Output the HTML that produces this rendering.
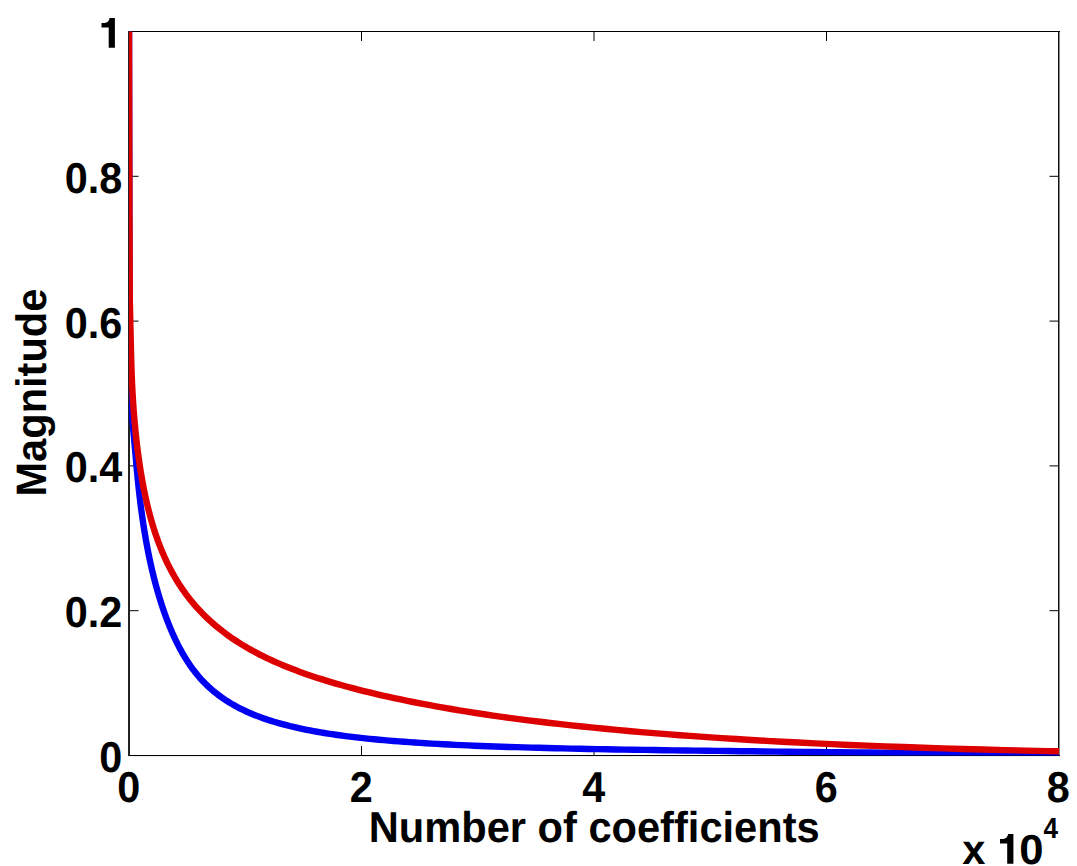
<!DOCTYPE html>
<html><head><meta charset="utf-8"><style>
html,body{margin:0;padding:0;background:#fff;width:1077px;height:866px;overflow:hidden}
svg{display:block}
text{font-family:"Liberation Sans",sans-serif;font-weight:bold;fill:#000;text-rendering:geometricPrecision}
</style></head><body>
<svg width="1077" height="866" viewBox="0 0 1077 866">
<defs><clipPath id="c"><rect x="129.0" y="31.5" width="930.0" height="724.0"/></clipPath></defs>
<rect width="1077" height="866" fill="#fff"/>
<path d="M129.00,755.5 V746.0 M129.00,31.5 V41.0 M361.50,755.5 V746.0 M361.50,31.5 V41.0 M594.00,755.5 V746.0 M594.00,31.5 V41.0 M826.50,755.5 V746.0 M826.50,31.5 V41.0 M1058.50,755.5 V746.0 M1058.50,31.5 V41.0 M129.0,755.50 H138.5 M1059.0,755.50 H1049.5 M129.0,610.70 H138.5 M1059.0,610.70 H1049.5 M129.0,465.90 H138.5 M1059.0,465.90 H1049.5 M129.0,321.10 H138.5 M1059.0,321.10 H1049.5 M129.0,176.30 H138.5 M1059.0,176.30 H1049.5 M129.0,31.50 H138.5 M1059.0,31.50 H1049.5" stroke="#000" stroke-width="1" fill="none"/>
<path d="M128,756.5 H1060" stroke="#ececec" stroke-width="1" fill="none"/>
<path d="M128,31.5 H1060 M128,755.5 H1060" stroke="#000" stroke-width="1" fill="none"/>
<path d="M129,31 V756" stroke="#222" stroke-width="2" fill="none"/>
<path d="M1058.75,31 V756" stroke="#111" stroke-width="1.5" fill="none"/>
<g clip-path="url(#c)" fill="none" stroke-width="6.4" stroke-linejoin="round">
<path d="M129.00,20.00 L129.50,330.00 L131.50,410.00 L136.00,460.07 L136.13,461.67 L136.27,463.28 L136.41,464.89 L136.55,466.51 L136.70,468.14 L136.85,469.77 L137.00,471.41 L137.15,473.05 L137.31,474.70 L137.47,476.36 L137.63,478.02 L137.79,479.69 L137.96,481.36 L138.14,483.04 L138.31,484.72 L138.49,486.41 L138.67,488.10 L138.86,489.80 L139.05,491.50 L139.24,493.21 L139.44,494.92 L139.64,496.64 L139.84,498.37 L140.05,500.10 L140.26,501.83 L140.48,503.57 L140.70,505.31 L140.92,507.06 L141.15,508.81 L141.39,510.56 L141.62,512.33 L141.87,514.09 L142.11,515.86 L142.36,517.63 L142.62,519.41 L142.88,521.19 L143.15,522.98 L143.42,524.77 L143.70,526.56 L143.98,528.36 L144.27,530.16 L144.56,531.97 L144.86,533.77 L145.16,535.59 L145.47,537.40 L145.79,539.22 L146.11,541.04 L146.44,542.87 L146.78,544.70 L147.12,546.53 L147.47,548.37 L147.82,550.21 L148.18,552.05 L148.55,553.89 L148.93,555.74 L149.31,557.59 L149.70,559.45 L150.10,561.30 L150.50,563.16 L150.91,565.03 L151.33,566.89 L151.76,568.76 L152.20,570.63 L152.65,572.50 L153.10,574.37 L153.56,576.25 L154.03,578.13 L154.51,580.01 L155.00,581.89 L155.50,583.78 L156.01,585.66 L156.53,587.55 L157.06,589.44 L157.60,591.34 L158.15,593.23 L158.71,595.13 L159.28,597.02 L159.86,598.92 L160.45,600.82 L161.06,602.73 L161.67,604.63 L162.30,606.53 L162.94,608.44 L163.59,610.35 L164.25,612.26 L164.93,614.16 L165.62,616.07 L166.32,617.98 L167.04,619.89 L167.77,621.79 L168.52,623.70 L169.27,625.60 L170.05,627.49 L170.84,629.39 L171.64,631.27 L172.46,633.16 L173.29,635.03 L174.14,636.90 L175.01,638.77 L175.89,640.62 L176.79,642.47 L177.71,644.31 L178.65,646.13 L179.60,647.95 L180.57,649.76 L181.56,651.56 L182.57,653.34 L183.60,655.12 L184.65,656.88 L185.72,658.62 L186.81,660.35 L187.92,662.07 L189.05,663.77 L190.20,665.46 L191.38,667.13 L192.57,668.78 L193.79,670.41 L195.04,672.03 L196.31,673.62 L197.60,675.20 L198.92,676.76 L200.26,678.29 L201.63,679.81 L203.02,681.30 L204.44,682.78 L205.89,684.23 L207.37,685.66 L208.87,687.07 L210.41,688.46 L211.97,689.84 L213.56,691.19 L215.19,692.52 L216.84,693.83 L218.53,695.12 L220.25,696.39 L222.00,697.65 L223.78,698.88 L225.60,700.09 L227.46,701.29 L229.35,702.47 L231.28,703.63 L233.24,704.77 L235.24,705.89 L237.28,706.99 L239.36,708.08 L241.48,709.15 L243.64,710.20 L245.84,711.23 L248.08,712.24 L250.37,713.24 L252.70,714.22 L255.08,715.18 L257.50,716.13 L259.97,717.06 L262.48,717.97 L265.04,718.87 L267.66,719.75 L270.32,720.62 L273.03,721.46 L275.80,722.30 L278.62,723.11 L281.49,723.91 L284.42,724.70 L287.40,725.47 L290.44,726.23 L293.54,726.97 L296.70,727.69 L299.92,728.40 L303.20,729.10 L306.55,729.78 L309.96,730.45 L313.43,731.10 L316.97,731.74 L320.58,732.36 L324.26,732.98 L328.01,733.57 L331.83,734.16 L335.73,734.73 L339.70,735.29 L343.74,735.83 L347.87,736.37 L352.07,736.89 L356.35,737.39 L360.72,737.89 L365.17,738.37 L369.70,738.84 L374.33,739.30 L379.04,739.74 L383.84,740.18 L388.73,740.60 L393.72,741.01 L398.80,741.41 L403.98,741.80 L409.26,742.18 L414.64,742.55 L420.13,742.90 L425.72,743.25 L431.41,743.59 L437.22,743.91 L443.14,744.23 L449.17,744.54 L455.32,744.84 L461.59,745.13 L467.97,745.41 L474.48,745.68 L481.11,745.95 L487.88,746.20 L494.77,746.45 L501.79,746.70 L508.95,746.93 L516.24,747.16 L523.68,747.38 L531.26,747.60 L538.98,747.80 L546.85,748.01 L554.88,748.20 L563.06,748.40 L571.39,748.58 L579.89,748.76 L588.54,748.94 L597.37,749.11 L606.36,749.28 L615.53,749.45 L624.87,749.61 L634.39,749.76 L644.09,749.92 L653.99,750.07 L664.07,750.21 L674.34,750.36 L684.81,750.50 L695.48,750.64 L706.36,750.78 L717.45,750.92 L728.75,751.05 L740.26,751.19 L752.00,751.32 L763.96,751.46 L776.16,751.59 L788.58,751.72 L801.25,751.85 L814.15,751.99 L827.31,752.12 L840.72,752.25 L854.39,752.39 L868.31,752.52 L882.51,752.66 L896.98,752.80 L911.73,752.94 L926.76,753.09 L942.07,753.23 L957.69,753.38 L973.60,753.53 L989.82,753.69 L1006.35,753.85 L1023.19,754.01 L1040.36,754.18 L1057.86,754.35 L1075.70,754.52 L1093.87,754.70" stroke="#0000f2"/>
<path d="M129.00,20.00 L129.40,200.00 L129.80,300.00 L130.75,340.22 L130.79,342.36 L130.84,344.46 L130.88,346.54 L130.93,348.59 L130.98,350.61 L131.03,352.61 L131.08,354.58 L131.13,356.52 L131.18,358.44 L131.23,360.34 L131.29,362.21 L131.34,364.07 L131.40,365.90 L131.46,367.70 L131.52,369.49 L131.58,371.26 L131.65,373.01 L131.71,374.75 L131.78,376.46 L131.85,378.16 L131.92,379.85 L131.99,381.52 L132.07,383.17 L132.14,384.82 L132.22,386.45 L132.30,388.06 L132.38,389.67 L132.46,391.27 L132.55,392.85 L132.64,394.43 L132.73,396.00 L132.82,397.56 L132.91,399.12 L133.01,400.67 L133.11,402.21 L133.21,403.75 L133.31,405.29 L133.42,406.82 L133.53,408.35 L133.64,409.88 L133.75,411.41 L133.87,412.93 L133.99,414.46 L134.11,415.99 L134.24,417.53 L134.37,419.06 L134.50,420.60 L134.64,422.14 L134.78,423.69 L134.92,425.24 L135.07,426.80 L135.22,428.36 L135.37,429.93 L135.53,431.51 L135.69,433.09 L135.85,434.67 L136.02,436.26 L136.19,437.86 L136.37,439.47 L136.55,441.08 L136.74,442.70 L136.93,444.32 L137.13,445.95 L137.33,447.59 L137.53,449.24 L137.74,450.90 L137.96,452.56 L138.18,454.24 L138.41,455.92 L138.64,457.61 L138.88,459.31 L139.12,461.01 L139.37,462.73 L139.62,464.46 L139.89,466.19 L140.16,467.94 L140.43,469.69 L140.71,471.45 L141.00,473.22 L141.30,474.99 L141.60,476.77 L141.91,478.57 L142.23,480.36 L142.56,482.17 L142.89,483.98 L143.23,485.80 L143.58,487.63 L143.94,489.46 L144.31,491.29 L144.69,493.14 L145.08,494.99 L145.48,496.84 L145.88,498.70 L146.30,500.57 L146.72,502.44 L147.16,504.31 L147.61,506.19 L148.07,508.08 L148.54,509.97 L149.02,511.86 L149.52,513.75 L150.02,515.65 L150.54,517.56 L151.07,519.46 L151.62,521.37 L152.17,523.28 L152.75,525.20 L153.33,527.12 L153.93,529.04 L154.55,530.96 L155.18,532.88 L155.82,534.81 L156.49,536.73 L157.16,538.66 L157.86,540.59 L158.57,542.52 L159.30,544.45 L160.05,546.39 L160.81,548.32 L161.60,550.25 L162.40,552.18 L163.23,554.11 L164.07,556.05 L164.94,557.98 L165.82,559.91 L166.73,561.84 L167.66,563.77 L168.62,565.69 L169.59,567.62 L170.60,569.54 L171.62,571.46 L172.67,573.38 L173.75,575.30 L174.85,577.22 L175.99,579.13 L177.15,581.04 L178.33,582.94 L179.55,584.85 L180.80,586.75 L182.08,588.64 L183.38,590.54 L184.73,592.43 L186.10,594.31 L187.51,596.19 L188.95,598.07 L190.43,599.94 L191.95,601.80 L193.50,603.66 L195.09,605.52 L196.72,607.37 L198.39,609.21 L200.11,611.05 L201.86,612.88 L203.66,614.71 L205.50,616.53 L207.39,618.34 L209.32,620.15 L211.30,621.95 L213.33,623.74 L215.41,625.52 L217.55,627.30 L219.73,629.07 L221.97,630.83 L224.26,632.58 L226.61,634.33 L229.02,636.07 L231.49,637.79 L234.02,639.51 L236.61,641.22 L239.26,642.92 L241.98,644.61 L244.77,646.30 L247.63,647.97 L250.56,649.63 L253.55,651.28 L256.63,652.92 L259.78,654.55 L263.00,656.18 L266.31,657.79 L269.70,659.39 L273.17,660.98 L276.72,662.57 L280.37,664.14 L284.10,665.71 L287.93,667.26 L291.85,668.81 L295.87,670.35 L299.99,671.88 L304.20,673.40 L308.53,674.92 L312.96,676.42 L317.49,677.92 L322.14,679.41 L326.91,680.89 L331.79,682.37 L336.80,683.83 L341.92,685.29 L347.18,686.74 L352.56,688.19 L358.07,689.62 L363.73,691.05 L369.52,692.47 L375.45,693.89 L381.53,695.30 L387.76,696.70 L394.14,698.10 L400.69,699.49 L407.39,700.87 L414.26,702.25 L421.30,703.62 L428.51,704.98 L435.90,706.34 L443.47,707.68 L451.23,709.02 L459.18,710.35 L467.32,711.67 L475.67,712.98 L484.22,714.27 L492.99,715.56 L501.97,716.83 L511.17,718.09 L520.60,719.34 L530.26,720.58 L540.16,721.80 L550.30,723.00 L560.69,724.19 L571.35,725.37 L582.26,726.53 L593.44,727.68 L604.90,728.80 L616.64,729.91 L628.67,731.01 L641.00,732.08 L653.63,733.14 L666.57,734.17 L679.84,735.19 L693.43,736.18 L707.35,737.16 L721.62,738.11 L736.24,739.05 L751.22,739.96 L766.58,740.84 L782.31,741.71 L798.42,742.55 L814.94,743.37 L831.86,744.16 L849.20,744.93 L866.97,745.67 L885.18,746.38 L903.83,747.07 L922.95,747.73 L942.54,748.36 L962.61,748.97 L983.18,749.55 L1004.25,750.09 L1025.84,750.61 L1047.97,751.10 L1070.64,751.56 L1093.87,751.99" stroke="#dc0000"/>
</g>
<g font-size="42">
<text transform="translate(122.2,771.70) scale(0.985,1.03)" text-anchor="end">0</text>
<text transform="translate(122.2,627.30) scale(0.985,1.03)" text-anchor="end">0.2</text>
<text transform="translate(122.2,482.30) scale(0.985,1.03)" text-anchor="end">0.4</text>
<text transform="translate(122.2,338.20) scale(0.985,1.03)" text-anchor="end">0.6</text>
<text transform="translate(122.2,192.70) scale(0.985,1.03)" text-anchor="end">0.8</text>
<path transform="translate(0,0.00)" d="M114.9,18.0 L114.9,47.8 L108.7,47.8 L108.7,27.5 L101.5,27.5 L101.5,23.1 L104.5,23.1 Q109.0,22.6 109.6,18.0 Z"/>
<text transform="translate(128.70,802.2) scale(0.985,1.03)" text-anchor="middle">0</text>
<text transform="translate(361.20,802.2) scale(0.985,1.03)" text-anchor="middle">2</text>
<text transform="translate(593.70,802.2) scale(0.985,1.03)" text-anchor="middle">4</text>
<text transform="translate(826.20,802.2) scale(0.985,1.03)" text-anchor="middle">6</text>
<text transform="translate(1058.20,802.2) scale(0.985,1.03)" text-anchor="middle">8</text>
<text transform="translate(594.2,842.3) scale(0.991,1.03)" text-anchor="middle">Number of coefficients</text>
<text transform="translate(46.2,392.6) rotate(-90) scale(0.99,1.015)" text-anchor="middle">Magnitude</text>
<text transform="translate(962.3,863.6) scale(0.99,1.0)">x</text>
<path transform="translate(898.5,815.9)" d="M114.9,18.0 L114.9,47.8 L108.7,47.8 L108.7,27.5 L101.5,27.5 L101.5,23.1 L104.5,23.1 Q109.0,22.6 109.6,18.0 Z"/>
<text transform="translate(1019.3,864.0) scale(1.04,1.0)">0</text>
</g>
<text transform="translate(1043.5,838.2) scale(0.9,1.0)" font-size="29">4</text>
</svg>
</body></html>
